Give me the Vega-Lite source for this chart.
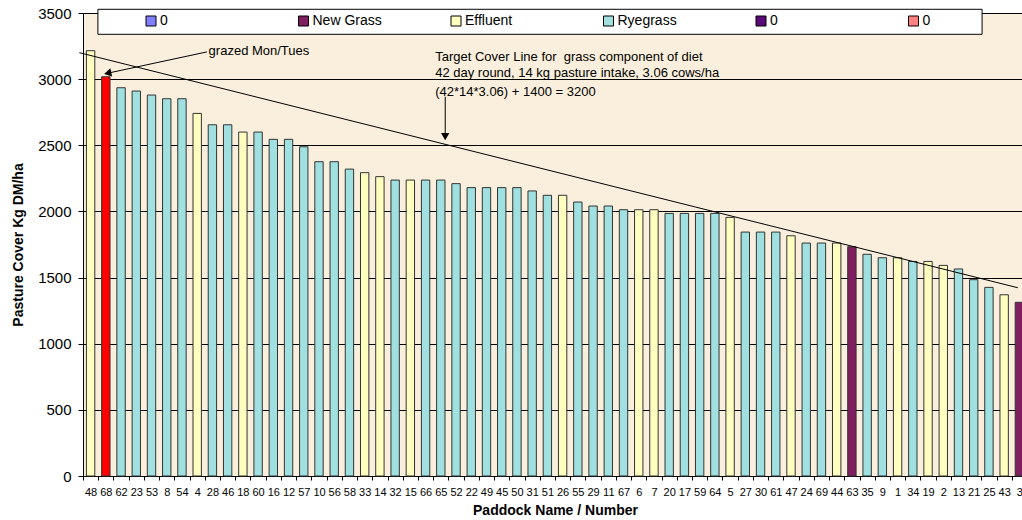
{
  "$schema": "https://vega.github.io/schema/vega-lite/v6.json",
  "autosize": "none",
  "width": 944,
  "height": 463,
  "padding": {"left": 83, "top": 13, "right": 0, "bottom": 44},
  "background": "white",
  "config": {
    "font": "Liberation Sans",
    "view": {"stroke": null, "fill": "#f9efdc"},
    "axis": {"labelColor": "black", "titleColor": "black", "domainColor": "black", "tickColor": "black"}
  },
  "datasets": {
    "bars": [
      {"p": "48", "v": 3215, "t": "Effluent"},
      {"p": "68", "v": 3018, "t": "Grazed"},
      {"p": "62", "v": 2935, "t": "Ryegrass"},
      {"p": "23", "v": 2910, "t": "Ryegrass"},
      {"p": "53", "v": 2880, "t": "Ryegrass"},
      {"p": "8", "v": 2852, "t": "Ryegrass"},
      {"p": "54", "v": 2852, "t": "Ryegrass"},
      {"p": "4", "v": 2741, "t": "Effluent"},
      {"p": "28", "v": 2655, "t": "Ryegrass"},
      {"p": "46", "v": 2655, "t": "Ryegrass"},
      {"p": "18", "v": 2600, "t": "Effluent"},
      {"p": "60", "v": 2600, "t": "Ryegrass"},
      {"p": "16", "v": 2545, "t": "Ryegrass"},
      {"p": "12", "v": 2545, "t": "Ryegrass"},
      {"p": "57", "v": 2489, "t": "Ryegrass"},
      {"p": "10", "v": 2376, "t": "Ryegrass"},
      {"p": "56", "v": 2376, "t": "Ryegrass"},
      {"p": "58", "v": 2320, "t": "Ryegrass"},
      {"p": "33", "v": 2293, "t": "Effluent"},
      {"p": "14", "v": 2263, "t": "Effluent"},
      {"p": "32", "v": 2237, "t": "Ryegrass"},
      {"p": "15", "v": 2237, "t": "Effluent"},
      {"p": "66", "v": 2237, "t": "Ryegrass"},
      {"p": "65", "v": 2237, "t": "Ryegrass"},
      {"p": "52", "v": 2210, "t": "Ryegrass"},
      {"p": "22", "v": 2180, "t": "Ryegrass"},
      {"p": "49", "v": 2180, "t": "Ryegrass"},
      {"p": "45", "v": 2180, "t": "Ryegrass"},
      {"p": "50", "v": 2180, "t": "Ryegrass"},
      {"p": "31", "v": 2155, "t": "Ryegrass"},
      {"p": "51", "v": 2122, "t": "Ryegrass"},
      {"p": "26", "v": 2122, "t": "Effluent"},
      {"p": "55", "v": 2071, "t": "Ryegrass"},
      {"p": "29", "v": 2041, "t": "Ryegrass"},
      {"p": "11", "v": 2041, "t": "Ryegrass"},
      {"p": "67", "v": 2013, "t": "Ryegrass"},
      {"p": "6", "v": 2013, "t": "Effluent"},
      {"p": "7", "v": 2013, "t": "Effluent"},
      {"p": "20", "v": 1985, "t": "Ryegrass"},
      {"p": "17", "v": 1985, "t": "Ryegrass"},
      {"p": "59", "v": 1985, "t": "Ryegrass"},
      {"p": "64", "v": 1985, "t": "Ryegrass"},
      {"p": "5", "v": 1955, "t": "Effluent"},
      {"p": "27", "v": 1844, "t": "Ryegrass"},
      {"p": "30", "v": 1844, "t": "Ryegrass"},
      {"p": "61", "v": 1844, "t": "Ryegrass"},
      {"p": "47", "v": 1816, "t": "Effluent"},
      {"p": "24", "v": 1761, "t": "Ryegrass"},
      {"p": "69", "v": 1761, "t": "Ryegrass"},
      {"p": "44", "v": 1761, "t": "Effluent"},
      {"p": "63", "v": 1733, "t": "New Grass"},
      {"p": "35", "v": 1676, "t": "Ryegrass"},
      {"p": "9", "v": 1650, "t": "Ryegrass"},
      {"p": "1", "v": 1650, "t": "Effluent"},
      {"p": "34", "v": 1622, "t": "Ryegrass"},
      {"p": "19", "v": 1622, "t": "Effluent"},
      {"p": "2", "v": 1592, "t": "Effluent"},
      {"p": "13", "v": 1565, "t": "Ryegrass"},
      {"p": "21", "v": 1484, "t": "Ryegrass"},
      {"p": "25", "v": 1426, "t": "Ryegrass"},
      {"p": "43", "v": 1370, "t": "Effluent"},
      {"p": "3", "v": 1313, "t": "New Grass"}
    ],
    "box": [{"x": 0.98, "x2": 59.05, "v": 3528, "v2": 3339}],
    "lines": [
      {"x": -0.24, "v": 3200, "x2": 61.4, "v2": 1423},
      {"x": 8.14, "v": 3206, "x2": 1.5, "v2": 3042},
      {"x": 23.79, "v": 2867, "x2": 23.79, "v2": 2560}
    ],
    "headLeft": [{"x": 1.62, "v": 3045}],
    "headDown": [{"x": 23.79, "v": 2565}],
    "texts": [
      {"x": 8.25, "v": 3212, "label": "grazed Mon/Tues"},
      {"x": 23.13, "v": 3165, "label": "Target Cover Line for \u00a0grass component of diet"},
      {"x": 23.13, "v": 3044, "label": "42 day round, 14 kg pasture intake, 3.06 cows/ha"},
      {"x": 23.13, "v": 2905, "label": "(42*14*3.06) + 1400 = 3200"}
    ]
  },
  "resolve": {"scale": {"x": "independent"}},
  "layer": [
    {
      "data": {"name": "bars"},
      "mark": {"type": "bar", "width": {"band": 0.55}, "stroke": "#333333", "strokeWidth": 1},
      "encoding": {
        "x": {
          "field": "p", "type": "nominal", "sort": null,
          "scale": {"paddingInner": 0, "paddingOuter": 0},
          "axis": {
            "title": "Paddock Name / Number", "titleFontSize": 14, "titleFontWeight": "bold", "titlePadding": 6,
            "labelAngle": 0, "labelFontSize": 11, "labelOverlap": false, "labelPadding": 6,
            "tickBand": "extent", "tickSize": 4
          }
        },
        "y": {
          "field": "v", "type": "quantitative",
          "scale": {"domain": [0, 3500], "nice": false},
          "axis": {
            "title": "Pasture Cover Kg DM/ha", "titleFontSize": 14, "titleFontWeight": "bold", "titlePadding": 12,
            "values": [0, 500, 1000, 1500, 2000, 2500, 3000, 3500], "format": "d",
            "labelFontSize": 15, "labelPadding": 7, "tickSize": 5,
            "grid": true, "gridColor": "black", "gridOpacity": 1, "gridWidth": 1
          }
        },
        "color": {
          "field": "t", "type": "nominal",
          "scale": {
            "domain": ["0a", "New Grass", "Effluent", "Ryegrass", "0b", "0c", "Grazed"],
            "range": ["#8080ff", "#7f1f5f", "#ffffc0", "#a0e0e0", "#5a0a78", "#ff8080", "#ff0000"]
          },
          "legend": {
            "orient": "none", "legendX": 61, "legendY": 1,
            "direction": "horizontal", "columns": 6, "gridAlign": "all", "columnPadding": 66.5,
            "values": ["0a", "New Grass", "Effluent", "Ryegrass", "0b", "0c"],
            "labelExpr": "test(/^0/, datum.label) ? '0' : datum.label",
            "title": null, "labelFontSize": 14, "labelColor": "black", "labelOffset": 2,
            "symbolType": "square", "symbolSize": 100, "symbolStrokeColor": "black", "symbolStrokeWidth": 1, "symbolOpacity": 1,
            "padding": 0
          }
        }
      }
    },
    {
      "data": {"name": "box"},
      "mark": {"type": "rect", "fill": "white", "stroke": "black", "strokeWidth": 1},
      "encoding": {
        "x": {"field": "x", "type": "quantitative", "scale": {"domain": [0, 62], "nice": false, "zero": false}, "axis": null},
        "x2": {"field": "x2"},
        "y": {"field": "v", "type": "quantitative"},
        "y2": {"field": "v2"}
      }
    },
    {
      "data": {"name": "lines"},
      "mark": {"type": "rule", "color": "black", "strokeWidth": 1},
      "encoding": {
        "x": {"field": "x", "type": "quantitative", "scale": {"domain": [0, 62], "nice": false, "zero": false}, "axis": null},
        "x2": {"field": "x2"},
        "y": {"field": "v", "type": "quantitative"},
        "y2": {"field": "v2"}
      }
    },
    {
      "data": {"name": "headLeft"},
      "mark": {"type": "point", "shape": "triangle-up", "angle": 258, "filled": true, "color": "black", "size": 70, "opacity": 1},
      "encoding": {
        "x": {"field": "x", "type": "quantitative", "scale": {"domain": [0, 62], "nice": false, "zero": false}, "axis": null},
        "y": {"field": "v", "type": "quantitative"}
      }
    },
    {
      "data": {"name": "headDown"},
      "mark": {"type": "point", "shape": "triangle-down", "filled": true, "color": "black", "size": 70, "opacity": 1},
      "encoding": {
        "x": {"field": "x", "type": "quantitative", "scale": {"domain": [0, 62], "nice": false, "zero": false}, "axis": null},
        "y": {"field": "v", "type": "quantitative"}
      }
    },
    {
      "data": {"name": "texts"},
      "mark": {"type": "text", "align": "left", "baseline": "middle", "fontSize": 13, "color": "black"},
      "encoding": {
        "x": {"field": "x", "type": "quantitative", "scale": {"domain": [0, 62], "nice": false, "zero": false}, "axis": null},
        "y": {"field": "v", "type": "quantitative"},
        "text": {"field": "label"}
      }
    }
  ]
}
